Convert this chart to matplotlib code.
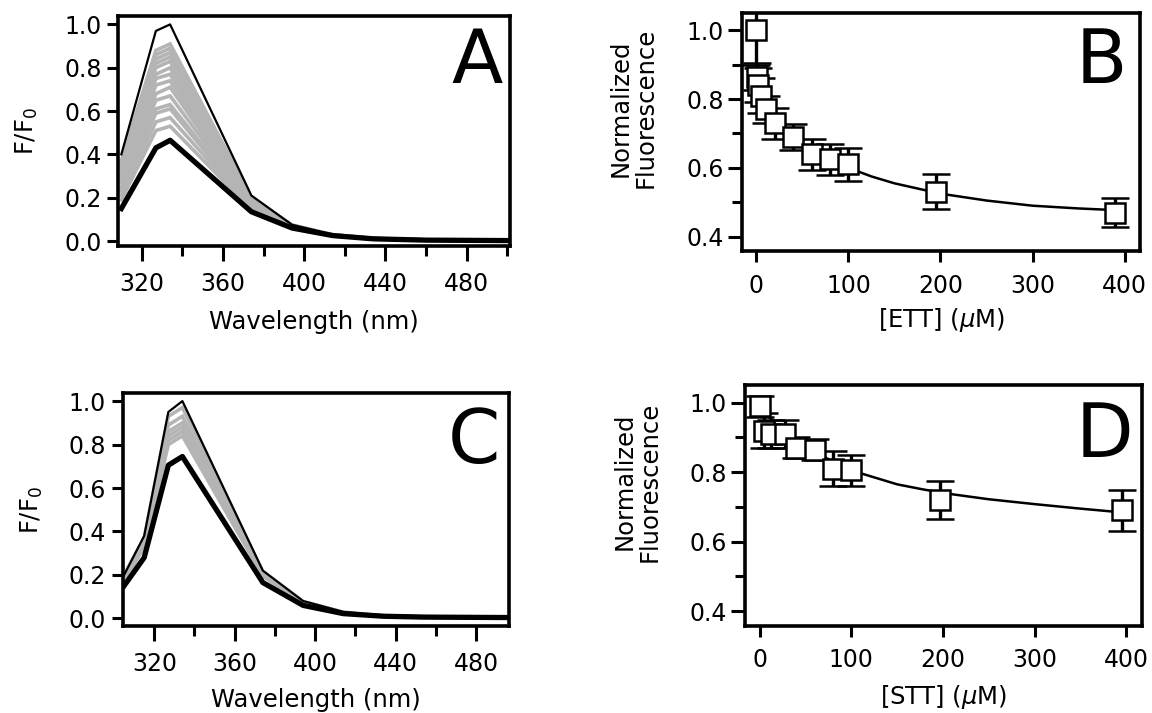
import numpy as np
import matplotlib
matplotlib.use("Agg")
import matplotlib.pyplot as plt
from matplotlib.ticker import MultipleLocator

plt.rcParams['font.family'] = ['DejaVu Sans']
plt.rcParams['mathtext.fontset'] = 'dejavusans'

# ---- panel A: emission spectra, ETT titration ----
wl_a = [310, 327, 334, 374, 394, 414, 434, 460, 500]
top_a = [0.40, 0.97, 1.00, 0.21, 0.075, 0.030, 0.012, 0.005, 0.003]
bot_a = [0.15, 0.43, 0.465, 0.135, 0.060, 0.025, 0.010, 0.004, 0.002]
grey_a = [
    [0.37, 0.88, 0.91, 0.200, 0.074, 0.029, 0.012, 0.005, 0.003],
    [0.36, 0.86, 0.89, 0.200, 0.073, 0.029, 0.012, 0.005, 0.003],
    [0.35, 0.84, 0.87, 0.195, 0.072, 0.029, 0.012, 0.005, 0.003],
    [0.34, 0.82, 0.85, 0.190, 0.071, 0.028, 0.011, 0.005, 0.003],
    [0.33, 0.80, 0.83, 0.190, 0.070, 0.028, 0.011, 0.005, 0.003],
    [0.31, 0.77, 0.80, 0.185, 0.069, 0.028, 0.011, 0.005, 0.003],
    [0.30, 0.75, 0.77, 0.180, 0.068, 0.027, 0.011, 0.005, 0.003],
    [0.28, 0.72, 0.74, 0.175, 0.067, 0.027, 0.011, 0.004, 0.003],
    [0.27, 0.68, 0.71, 0.170, 0.066, 0.027, 0.011, 0.004, 0.003],
    [0.25, 0.65, 0.67, 0.165, 0.065, 0.026, 0.010, 0.004, 0.002],
    [0.24, 0.61, 0.63, 0.160, 0.064, 0.026, 0.010, 0.004, 0.002],
    [0.23, 0.59, 0.61, 0.155, 0.063, 0.026, 0.010, 0.004, 0.002],
    [0.21, 0.55, 0.57, 0.150, 0.062, 0.025, 0.010, 0.004, 0.002],
    [0.19, 0.51, 0.53, 0.145, 0.061, 0.025, 0.010, 0.004, 0.002],
]

# ---- panel C: emission spectra, STT titration ----
wl_c = [305, 315, 327, 334, 374, 394, 414, 434, 454, 474, 496]
top_c = [0.20, 0.38, 0.95, 1.00, 0.220, 0.080, 0.030, 0.012, 0.008, 0.006, 0.005]
bot_c = [0.15, 0.28, 0.705, 0.745, 0.165, 0.060, 0.022, 0.010, 0.006, 0.005, 0.004]
grey_c = [
    [0.20, 0.37, 0.93, 0.97, 0.215, 0.078, 0.029, 0.012, 0.008, 0.006, 0.005],
    [0.19, 0.36, 0.89, 0.93, 0.210, 0.076, 0.028, 0.011, 0.008, 0.006, 0.005],
    [0.19, 0.35, 0.86, 0.90, 0.205, 0.074, 0.027, 0.011, 0.007, 0.006, 0.005],
    [0.18, 0.35, 0.84, 0.88, 0.200, 0.072, 0.026, 0.011, 0.007, 0.006, 0.005],
    [0.18, 0.34, 0.82, 0.86, 0.200, 0.071, 0.026, 0.011, 0.007, 0.006, 0.005],
    [0.17, 0.33, 0.80, 0.84, 0.195, 0.070, 0.025, 0.011, 0.007, 0.005, 0.004],
]

# ---- panel B: ETT binding ----
conc_b = [0, 1, 2, 5, 10, 20, 40, 60, 80, 100, 195, 390]
fl_b = [1.00, 0.865, 0.84, 0.81, 0.77, 0.73, 0.69, 0.64, 0.625, 0.61, 0.53, 0.47]
err_b = [0.10, 0.04, 0.05, 0.05, 0.04, 0.045, 0.037, 0.045, 0.045, 0.048, 0.051, 0.041]
fit_x_b = [0, 10, 20, 40, 60, 80, 100, 125, 150, 175, 200, 250, 300, 350, 400]
fit_y_b = [0.90, 0.80, 0.75, 0.69, 0.65, 0.62, 0.600, 0.575, 0.555, 0.540, 0.525, 0.505, 0.490, 0.482, 0.476]

# ---- panel D: STT binding ----
conc_d = [0, 5, 12, 28, 40, 60, 80, 100, 197, 395]
fl_d = [0.99, 0.92, 0.91, 0.91, 0.87, 0.865, 0.81, 0.805, 0.72, 0.69]
err_d = [0.03, 0.05, 0.04, 0.04, 0.03, 0.03, 0.05, 0.045, 0.056, 0.059]
fit_x_d = [0, 20, 40, 60, 80, 100, 125, 150, 175, 200, 250, 300, 350, 400]
fit_y_d = [0.99, 0.93, 0.89, 0.86, 0.83, 0.805, 0.785, 0.765, 0.752, 0.740, 0.722, 0.708, 0.695, 0.683]

fig = plt.figure(figsize=(11.52, 7.13), dpi=100)
axA = fig.add_axes([0.1027, 0.655, 0.340, 0.322])
axB = fig.add_axes([0.6438, 0.6473, 0.346, 0.335])
axC = fig.add_axes([0.1065, 0.122, 0.3353, 0.3264])
axD = fig.add_axes([0.6467, 0.122, 0.3446, 0.338])

tick_fs = 17
label_fs = 17.5
letter_fs = 54


def frame(ax):
    for s in ax.spines.values():
        s.set_linewidth(2.6)
    ax.tick_params(which='both', direction='out', width=2.2, labelsize=tick_fs,
                   colors='black', pad=4)


def spectra(ax, wl, top, bot, greys, letter, lx, ly, xpad):
    for row in greys:
        ax.plot(wl, row, color='#b4b4b4', lw=2.6, solid_joinstyle='miter')
    ax.plot(wl, top, color='black', lw=1.6)
    ax.plot(wl, bot, color='black', lw=3.8)
    frame(ax)
    ax.xaxis.set_major_locator(MultipleLocator(40))
    ax.xaxis.set_minor_locator(MultipleLocator(20))
    ax.yaxis.set_major_locator(MultipleLocator(0.2))
    ax.yaxis.set_major_formatter(plt.FuncFormatter(lambda v, p: f'{v:.1f}'))
    ax.tick_params(axis='x', which='major', length=11, pad=8)
    ax.tick_params(axis='x', which='minor', length=7)
    ax.tick_params(axis='y', which='major', length=8)
    ax.set_xlabel('Wavelength (nm)', fontsize=label_fs, labelpad=xpad)
    ax.set_ylabel('F/F$_0$', fontsize=label_fs)
    ax.yaxis.set_label_coords(-0.2, 0.5)
    ax.text(lx, ly, letter, transform=ax.transAxes, ha='right', va='baseline',
            fontsize=letter_fs)


def binding(ax, conc, fl, err, fx, fy, xlab, letter, lx, ly, xpad):
    ax.plot(fx, fy, color='black', lw=1.8, zorder=2)
    ax.errorbar(conc, fl, yerr=err, fmt='s', ms=14, mfc='white', mec='black',
                mew=1.8, ecolor='black', elinewidth=2.4, capsize=10, capthick=2.6,
                zorder=3)
    frame(ax)
    ax.set_xlim(-16, 417)
    ax.set_ylim(0.357, 1.051)
    ax.set_xticks([0, 100, 200, 300, 400])
    ax.yaxis.set_major_locator(MultipleLocator(0.2))
    ax.yaxis.set_minor_locator(MultipleLocator(0.1))
    ax.yaxis.set_major_formatter(plt.FuncFormatter(lambda v, p: f'{v:.1f}'))
    ax.tick_params(axis='x', which='major', length=8, pad=8)
    ax.tick_params(axis='y', which='major', length=10, pad=3)
    ax.tick_params(axis='y', which='minor', length=7)
    ax.set_xlabel(xlab, fontsize=label_fs, labelpad=xpad)
    ax.set_ylabel('Normalized\nFluorescence', fontsize=label_fs, linespacing=1.05)
    ax.yaxis.set_label_coords(-0.21, 0.6)
    ax.text(lx, ly, letter, transform=ax.transAxes, ha='right', va='baseline',
            fontsize=letter_fs)


spectra(axA, wl_a, top_a, bot_a, grey_a, 'A', 0.982, 0.709, 10)
axA.set_xlim(308.5, 501.3)
axA.set_ylim(-0.023, 1.037)

spectra(axC, wl_c, top_c, bot_c, grey_c, 'C', 0.977, 0.70, 8)
axC.set_xlim(304.3, 496.4)
axC.set_ylim(-0.035, 1.036)

binding(axB, conc_b, fl_b, err_b, fit_x_b, fit_y_b, '[ETT] ($\\mu$M)', 'B', 0.967, 0.706, 6)
binding(axD, conc_d, fl_d, err_d, fit_x_d, fit_y_d, '[STT] ($\\mu$M)', 'D', 0.979, 0.702, 8)

fig.savefig('out.png', dpi=100)
